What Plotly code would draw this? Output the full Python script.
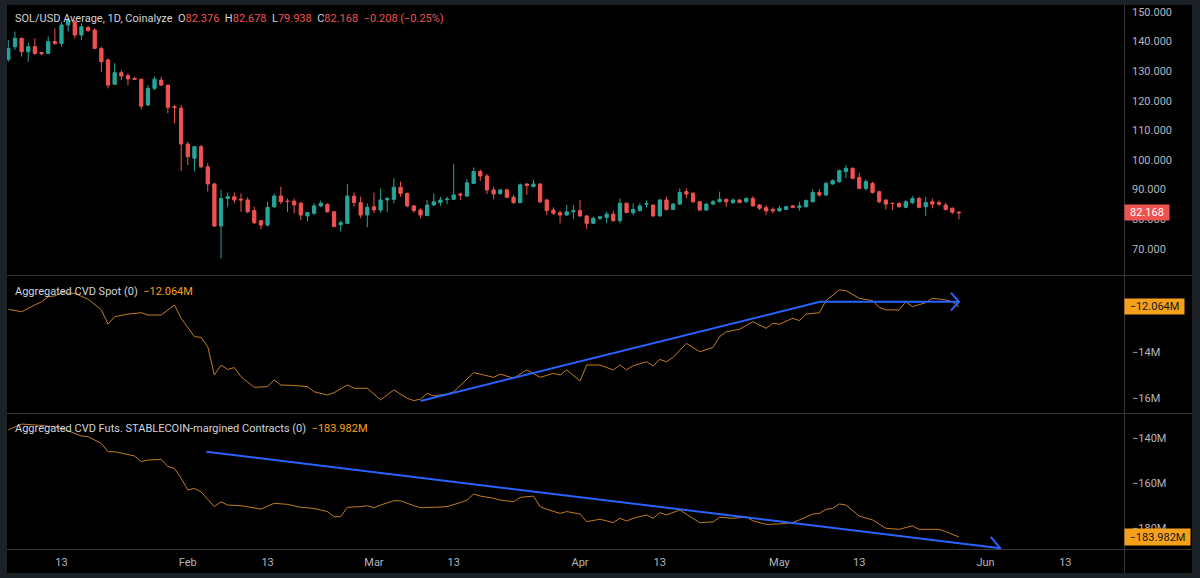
import pandas as pd
import plotly.graph_objects as go

# ---------------- DATA ----------------
first_day = "2026-01-05"
opens = [134.0,138.3,141.1,136.6,138.3,136.3,136.0,140.0,139.4,145.6,146.7,142.2,144.8,143.9,137.7,133.8,125.6,129.5,128.5,127.6,
         127.3,118.6,124.2,127.0,125.3,118.0,117.5,105.4,100.6,104.5,97.7,91.9,77.7,87.0,87.6,86.8,86.5,82.9,79.5,78.0,
         84.2,87.8,86.1,86.1,85.4,81.1,82.0,84.5,85.0,82.5,78.1,78.6,87.8,85.6,81.4,84.2,83.1,86.5,86.7,90.8,
         88.7,84.5,83.1,81.2,84.8,85.6,86.6,86.7,88.5,87.8,92.1,96.1,94.6,89.9,88.7,89.9,87.4,85.6,91.9,91.0,
         91.9,86.5,83.1,82.2,81.4,82.5,82.9,81.1,78.6,80.3,80.6,81.7,79.5,85.4,82.2,82.9,85.1,84.8,81.1,86.5,
         83.3,85.1,89.3,88.8,85.9,83.1,85.1,85.9,86.7,85.6,86.5,85.9,87.0,84.8,83.9,83.3,82.8,83.3,84.5,84.0,
         84.2,85.9,89.0,88.2,91.9,92.7,96.1,97.2,94.1,90.4,92.1,89.3,86.5,85.4,85.4,84.0,85.6,87.0,84.2,85.9,
         85.6,84.8,83.7,82.376]
highs = [140.5,143.4,141.4,139.6,141.1,136.5,141.7,144.5,146.7,147.9,147.3,146.2,145.3,144.5,138.3,134.3,132.7,130.4,129.3,127.9,
         127.3,125.3,128.2,128.2,125.3,118.6,118.6,106.2,104.7,105.1,98.9,92.3,89.9,89.0,89.0,88.7,87.4,84.2,79.7,85.9,
         88.7,91.0,87.0,87.0,85.9,82.5,85.4,86.3,85.4,82.8,79.5,91.9,89.0,87.6,85.4,89.0,90.4,87.6,93.8,92.7,
         89.0,84.8,83.7,86.5,88.7,87.6,87.6,98.6,89.0,93.5,97.5,96.8,95.3,91.0,90.1,90.4,88.2,92.1,92.1,93.3,
         92.1,86.8,84.0,82.9,84.8,84.8,86.5,81.4,80.9,81.1,82.5,82.9,87.0,85.6,85.4,85.4,86.3,84.8,86.7,87.6,
         85.4,90.4,90.4,89.0,86.0,85.4,86.5,89.3,87.0,87.0,86.7,87.4,87.8,85.1,84.8,84.0,84.5,84.5,84.8,85.9,
         86.7,90.1,90.1,92.7,93.5,96.8,98.3,97.5,95.7,93.5,92.7,89.6,86.7,85.6,85.6,86.5,87.8,87.6,87.6,87.0,
         86.3,85.6,84.0,82.678]
lows = [133.2,137.2,134.9,133.2,135.5,135.5,135.8,138.9,138.3,143.4,141.1,140.5,143.4,137.7,129.8,124.2,125.3,127.0,125.3,127.0,
        117.1,118.2,123.6,125.0,115.8,112.4,96.4,98.3,96.1,97.2,89.3,77.5,66.8,84.2,85.4,82.5,82.0,78.4,76.6,77.5,
        83.7,85.1,82.5,82.0,79.7,79.2,81.4,84.0,82.2,77.3,75.8,78.4,84.2,80.3,77.3,82.0,82.2,82.5,85.4,87.6,
        84.0,82.2,80.3,81.1,84.5,84.5,85.1,86.5,86.5,87.6,91.9,93.0,88.5,86.7,88.2,87.1,85.1,85.4,88.2,90.8,
        85.4,81.4,81.4,78.6,81.1,80.0,80.9,76.6,78.4,79.7,78.6,79.2,78.6,82.0,81.4,82.5,84.0,80.9,80.9,82.9,
        83.1,84.8,87.1,85.4,82.9,82.9,84.8,85.6,84.2,85.1,85.4,85.6,84.2,83.1,81.4,82.0,82.5,83.1,83.7,82.9,
        84.0,85.6,87.6,87.8,91.6,92.3,93.8,93.5,90.1,89.6,88.7,85.4,83.3,83.1,83.9,83.7,85.1,83.7,81.1,83.7,
        84.5,82.9,81.7,79.938]
closes = [137.7,141.1,136.6,138.3,136.0,135.9,140.0,139.4,145.6,147.3,142.2,145.0,143.7,137.7,133.2,125.3,129.5,128.4,127.4,127.3,
          118.2,124.2,127.3,125.3,117.8,117.8,105.4,101.1,104.5,97.7,91.9,77.7,87.0,87.6,86.5,86.5,82.5,78.8,78.0,84.0,
          87.8,85.9,86.0,84.8,81.4,82.2,84.5,85.4,82.5,77.5,78.9,87.8,85.6,81.4,84.0,83.1,86.5,87.0,90.8,88.7,
          84.5,82.9,81.4,84.8,85.9,86.5,86.8,88.2,88.2,92.3,96.1,94.6,89.9,88.5,89.9,87.4,85.6,91.6,91.4,91.9,
          85.9,82.9,82.0,81.4,82.5,82.9,81.1,78.6,80.3,80.8,81.7,79.5,85.4,82.3,83.3,84.5,85.2,81.1,86.5,83.3,
          85.1,89.0,88.5,85.9,83.1,85.1,85.9,86.7,85.9,86.5,85.6,87.0,84.5,83.7,82.8,82.8,83.7,84.2,84.0,84.5,
          86.3,89.0,88.2,92.1,93.0,96.4,97.2,93.8,90.4,92.7,89.0,85.9,85.1,85.3,84.2,85.9,87.0,84.0,85.6,85.1,
          85.1,83.3,82.376,82.168]

spot_dates = ["2026-01-05","2026-01-07","2026-01-09","2026-01-10","2026-01-11","2026-01-12","2026-01-13","2026-01-15",
              "2026-01-17","2026-01-19","2026-01-20","2026-01-21","2026-01-23","2026-01-25","2026-01-26","2026-01-28",
              "2026-01-30","2026-01-31","2026-02-02","2026-02-03","2026-02-04","2026-02-05","2026-02-06","2026-02-07",
              "2026-02-08","2026-02-09","2026-02-11","2026-02-13","2026-02-14","2026-02-15","2026-02-17","2026-02-19",
              "2026-02-20","2026-02-22","2026-02-23","2026-02-25","2026-02-26","2026-02-28","2026-03-02","2026-03-04",
              "2026-03-06","2026-03-07","2026-03-08","2026-03-09","2026-03-10","2026-03-12","2026-03-13","2026-03-16",
              "2026-03-17","2026-03-19","2026-03-20","2026-03-22","2026-03-24","2026-03-26","2026-03-28","2026-03-29",
              "2026-03-30","2026-04-01","2026-04-02","2026-04-04","2026-04-06","2026-04-07","2026-04-08","2026-04-09",
              "2026-04-11","2026-04-12","2026-04-13","2026-04-14","2026-04-15","2026-04-17","2026-04-19","2026-04-21",
              "2026-04-22","2026-04-23","2026-04-25","2026-04-27","2026-04-29","2026-04-30","2026-05-01","2026-05-03",
              "2026-05-04","2026-05-05","2026-05-07","2026-05-08","2026-05-10","2026-05-11","2026-05-13","2026-05-15",
              "2026-05-16","2026-05-17","2026-05-19","2026-05-20","2026-05-21","2026-05-23","2026-05-24","2026-05-26",
              "2026-05-27","2026-05-28"]
spot_cvd = [-12.16,-12.27,-11.98,-11.84,-11.62,-11.59,-11.45,-11.48,-11.73,-12.19,-12.80,-12.48,-12.37,-12.31,-12.41,-12.41,
            -11.98,-12.55,-13.34,-13.37,-13.77,-14.99,-14.56,-14.75,-14.67,-15.06,-15.52,-15.49,-15.20,-15.42,-15.44,-15.49,
            -15.71,-15.85,-15.75,-15.42,-15.56,-15.56,-16.06,-15.63,-15.99,-16.09,-16.03,-15.78,-15.89,-15.81,-15.71,-14.89,
            -14.95,-15.09,-14.95,-15.13,-14.77,-15.09,-14.92,-14.99,-14.77,-15.25,-14.56,-14.56,-14.77,-14.56,-14.77,-14.59,
            -14.42,-14.60,-14.32,-14.42,-14.23,-13.63,-13.99,-13.80,-13.34,-13.13,-13.02,-12.70,-12.98,-12.77,-12.80,-12.55,
            -12.65,-12.37,-12.31,-11.79,-11.33,-11.36,-11.69,-11.79,-12.08,-12.19,-12.19,-11.84,-12.05,-11.88,-11.69,-11.76,
            -11.84,-12.064]

futs_dates = ["2026-01-05","2026-01-07","2026-01-09","2026-01-12","2026-01-14","2026-01-16","2026-01-17","2026-01-19",
              "2026-01-20","2026-01-21","2026-01-24","2026-01-25","2026-01-26","2026-01-28","2026-01-29","2026-01-30",
              "2026-01-31","2026-02-01","2026-02-02","2026-02-03","2026-02-04","2026-02-05","2026-02-06","2026-02-07",
              "2026-02-09","2026-02-11","2026-02-12","2026-02-14","2026-02-16","2026-02-18","2026-02-20","2026-02-22",
              "2026-02-23","2026-02-24","2026-02-25","2026-02-27","2026-02-28","2026-03-01","2026-03-02","2026-03-04",
              "2026-03-05","2026-03-07","2026-03-08","2026-03-10","2026-03-12","2026-03-14","2026-03-15","2026-03-16",
              "2026-03-17","2026-03-19","2026-03-20","2026-03-22","2026-03-23","2026-03-25","2026-03-26","2026-03-27",
              "2026-03-29","2026-03-30","2026-04-01","2026-04-02","2026-04-04","2026-04-06","2026-04-07","2026-04-08",
              "2026-04-09","2026-04-11","2026-04-12","2026-04-13","2026-04-14","2026-04-16","2026-04-17","2026-04-19",
              "2026-04-21","2026-04-22","2026-04-24","2026-04-26","2026-04-27","2026-04-29","2026-05-01","2026-05-03",
              "2026-05-04","2026-05-06","2026-05-07","2026-05-08","2026-05-09","2026-05-10","2026-05-11","2026-05-13",
              "2026-05-15","2026-05-17","2026-05-19","2026-05-21","2026-05-22","2026-05-25","2026-05-26","2026-05-28"]
futs_cvd = [-136.4,-133.8,-134.2,-135.0,-136.8,-139.1,-139.4,-142.4,-146.1,-146.1,-148.0,-150.5,-149.8,-149.5,-152.7,-153.5,
            -157.9,-163.1,-162.4,-163.9,-167.3,-170.5,-168.3,-169.8,-170.1,-171.3,-171.6,-169.0,-169.5,-170.8,-171.3,-172.7,
            -175.0,-175.0,-170.8,-170.5,-170.1,-171.0,-169.8,-167.9,-167.9,-170.1,-171.0,-170.8,-170.5,-168.7,-167.6,-164.9,
            -165.8,-166.8,-167.6,-168.3,-166.4,-165.8,-170.5,-171.7,-173.5,-172.7,-173.8,-177.2,-176.1,-177.6,-175.7,-176.9,
            -175.7,-174.2,-175.7,-173.2,-174.2,-172.0,-173.8,-177.6,-177.3,-175.2,-175.7,-175.0,-176.8,-178.4,-178.2,-177.6,
            -176.4,-173.8,-173.5,-171.7,-171.3,-169.3,-169.8,-174.7,-176.4,-180.1,-180.6,-179.0,-180.6,-180.6,-181.6,-183.982]

# hand-drawn trend lines (date, value)
spot_trend_dates = ["2026-03-08 00:00", "2026-05-07 02:00", "2026-05-28 00:00"]
spot_trend_vals = [-16.11, -11.84, -11.84]
spot_arrow_dates = ["2026-05-26 19:00", "2026-05-28 00:00", "2026-05-26 19:00"]
spot_arrow_vals = [-11.45, -11.84, -12.22]
futs_trend_dates = ["2026-02-03 19:00", "2026-06-03 05:00"]
futs_trend_vals = [-146.1, -189.0]
futs_arrow_dates = ["2026-06-01 19:00", "2026-06-03 05:00", "2026-06-01 11:00"]
futs_arrow_vals = [-183.9, -189.0, -193.1]

x_tick_vals = ["2026-01-13","2026-02-01","2026-02-13","2026-03-01","2026-03-13","2026-04-01",
               "2026-04-13","2026-05-01","2026-05-13","2026-06-01","2026-06-13"]
x_tick_text = ["13","Feb","13","Mar","13","Apr","13","May","13","Jun","13"]
price_ticks = [70, 80, 90, 100, 110, 120, 130, 140, 150]
spot_ticks = [-16, -14]
spot_tick_text = ["\u221216M", "\u221214M"]
futs_ticks = [-180, -160, -140]
futs_tick_text = ["\u2212180M", "\u2212160M", "\u2212140M"]

# ---------------- STYLE / LAYOUT ----------------
W, H = 1200, 578
L, R, T, B = 7, 1124, 5, 549
def px(x): return (x - L) / (R - L)
def py(y): return (B - y) / (B - T)

UP, DOWN = "#26a69a", "#ef5350"
ORANGE_LINE = "#c07e22"
ORANGE_TAG = "#f7a11a"
BLUE = "#2962ff"
TXT = "#d1d4dc"
AX = "#b2b5be"
SEP = "#363636"
FRAME = "#1c2027"
FONT = "Roboto"

dates = pd.date_range(first_day, periods=len(closes), freq="D")

fig = go.Figure()
fig.add_trace(go.Candlestick(
    x=dates, open=opens, high=highs, low=lows, close=closes,
    increasing=dict(line=dict(color=UP, width=1), fillcolor=UP),
    decreasing=dict(line=dict(color=DOWN, width=1), fillcolor=DOWN),
    whiskerwidth=0, xaxis="x", yaxis="y", showlegend=False, hoverinfo="skip"))

fig.add_trace(go.Scatter(x=pd.to_datetime(spot_dates), y=spot_cvd, mode="lines",
                         line=dict(color=ORANGE_LINE, width=1), xaxis="x", yaxis="y2",
                         showlegend=False, hoverinfo="skip"))
fig.add_trace(go.Scatter(x=pd.to_datetime(spot_trend_dates), y=spot_trend_vals, mode="lines",
                         line=dict(color=BLUE, width=2), xaxis="x", yaxis="y2",
                         showlegend=False, hoverinfo="skip"))
fig.add_trace(go.Scatter(x=pd.to_datetime(spot_arrow_dates), y=spot_arrow_vals, mode="lines",
                         line=dict(color=BLUE, width=2), xaxis="x", yaxis="y2",
                         showlegend=False, hoverinfo="skip"))

fig.add_trace(go.Scatter(x=pd.to_datetime(futs_dates), y=futs_cvd, mode="lines",
                         line=dict(color=ORANGE_LINE, width=1), xaxis="x", yaxis="y3",
                         showlegend=False, hoverinfo="skip"))
fig.add_trace(go.Scatter(x=pd.to_datetime(futs_trend_dates), y=futs_trend_vals, mode="lines",
                         line=dict(color=BLUE, width=2), xaxis="x", yaxis="y3",
                         showlegend=False, hoverinfo="skip"))
fig.add_trace(go.Scatter(x=pd.to_datetime(futs_arrow_dates), y=futs_arrow_vals, mode="lines",
                         line=dict(color=BLUE, width=2), xaxis="x", yaxis="y3",
                         showlegend=False, hoverinfo="skip"))

# axis ranges from pixel calibration
def price_at(y): return 150 - (y - 12) / 2.96
def spot_at(y): return -14 - (y - 352) / 23.25
def futs_at(y): return -140 - (y - 438) / 2.25

x0 = pd.Timestamp(first_day) + pd.Timedelta(days=(L - 8.3) / 6.648)
x1 = pd.Timestamp(first_day) + pd.Timedelta(days=(R - 8.3) / 6.648)

yax_common = dict(side="right", anchor="x", showgrid=False, zeroline=False, showline=False,
                  ticks="", ticklabelstandoff=7, automargin=False, fixedrange=True,
                  tickfont=dict(family=FONT, size=11, color=AX))

fig.update_layout(
    width=W, height=H,
    margin=dict(l=L, r=W - R, t=T, b=H - B, autoexpand=False),
    paper_bgcolor="#000000", plot_bgcolor="#000000",
    showlegend=False,
    xaxis=dict(type="date", range=[x0, x1], anchor="y3", domain=[0, 1],
               showgrid=False, zeroline=False, showline=False, ticks="",
               tickvals=pd.to_datetime(x_tick_vals), ticktext=x_tick_text,
               tickfont=dict(family=FONT, size=11, color=AX), ticklabelstandoff=5,
               rangeslider=dict(visible=False), automargin=False),
    yaxis=dict(domain=[py(275), 1], range=[price_at(275), price_at(5)],
               tickvals=price_ticks, tickformat=".3f", **yax_common),
    yaxis2=dict(domain=[py(413), py(276)], range=[spot_at(413), spot_at(276)],
                tickvals=spot_ticks, ticktext=spot_tick_text, **yax_common),
    yaxis3=dict(domain=[0, py(414)], range=[futs_at(549), futs_at(414)],
                tickvals=futs_ticks, ticktext=futs_tick_text, **yax_common),
)

# separators and frame
shapes = []
for yy in (275.5, 413.5, 549.5):
    shapes.append(dict(type="line", xref="paper", yref="paper", x0=px(L), x1=px(1192),
                       y0=py(yy), y1=py(yy), line=dict(color=SEP, width=1), layer="above"))
shapes.append(dict(type="line", xref="paper", yref="paper", x0=px(1124.5), x1=px(1124.5),
                   y0=py(T), y1=py(573), line=dict(color=SEP, width=1), layer="above"))
for (a, b, c, d) in [(0, 0, L, H), (1192, 0, W, H), (0, 0, W, T), (0, 573, W, H)]:
    shapes.append(dict(type="rect", xref="paper", yref="paper", x0=px(a), x1=px(c),
                       y0=py(d), y1=py(b), fillcolor=FRAME, line=dict(width=0), layer="above"))
fig.update_layout(shapes=shapes)

# texts
chg = closes[-1] - closes[-2]
pct = chg / closes[-2] * 100
def red(s): return f"<span style='color:{DOWN}'>{s}</span>"
def minus(v, fmt): return (f"{v:{fmt}}").replace("-", "\u2212")
sp = "\u00a0 "
header = ("SOL/USD Average, 1D, Coinalyze" + sp +
          "O" + red(f"{opens[-1]:.3f}") + sp + "H" + red(f"{highs[-1]:.3f}") + sp +
          "L" + red(f"{lows[-1]:.3f}") + sp + "C" + red(f"{closes[-1]:.3f}") + sp +
          red(minus(chg, ".3f") + " (" + minus(pct, ".2f") + "%)"))
def orange(s): return f"<span style='color:{ORANGE_TAG}'>{s}</span>"
spot_title = "Aggregated CVD Spot (0)" + sp + orange(minus(spot_cvd[-1], ".3f") + "M")
futs_title = ("Aggregated CVD Futs. STABLECOIN-margined Contracts (0)" + sp +
              orange(minus(futs_cvd[-1], ".3f") + "M"))

ann = []
for text, yy in [(header, 18), (spot_title, 291), (futs_title, 428)]:
    ann.append(dict(text=text, xref="paper", yref="paper", x=px(13), y=py(yy),
                    xanchor="left", yanchor="middle", showarrow=False,
                    font=dict(family=FONT, size=11, color=TXT)))

ann.append(dict(text=f"{closes[-1]:.3f}", xref="paper", yref="y", x=1, y=closes[-1],
                xanchor="left", yanchor="middle", showarrow=False, bgcolor=DOWN,
                width=42, height=13, borderpad=1, font=dict(family=FONT, size=11, color="#ffffff")))
ann.append(dict(text=minus(spot_cvd[-1], ".3f") + "M", xref="paper", yref="y2", x=1, y=spot_cvd[-1],
                xanchor="left", yanchor="middle", showarrow=False, bgcolor=ORANGE_TAG,
                width=57, height=13, borderpad=1, font=dict(family=FONT, size=11, color="#131722")))
ann.append(dict(text=minus(futs_cvd[-1], ".3f") + "M", xref="paper", yref="y3", x=1, y=futs_cvd[-1],
                xanchor="left", yanchor="middle", showarrow=False, bgcolor=ORANGE_TAG,
                width=63, height=14, borderpad=1, font=dict(family=FONT, size=11, color="#131722")))
fig.update_layout(annotations=ann)

fig.write_html("out.html")
